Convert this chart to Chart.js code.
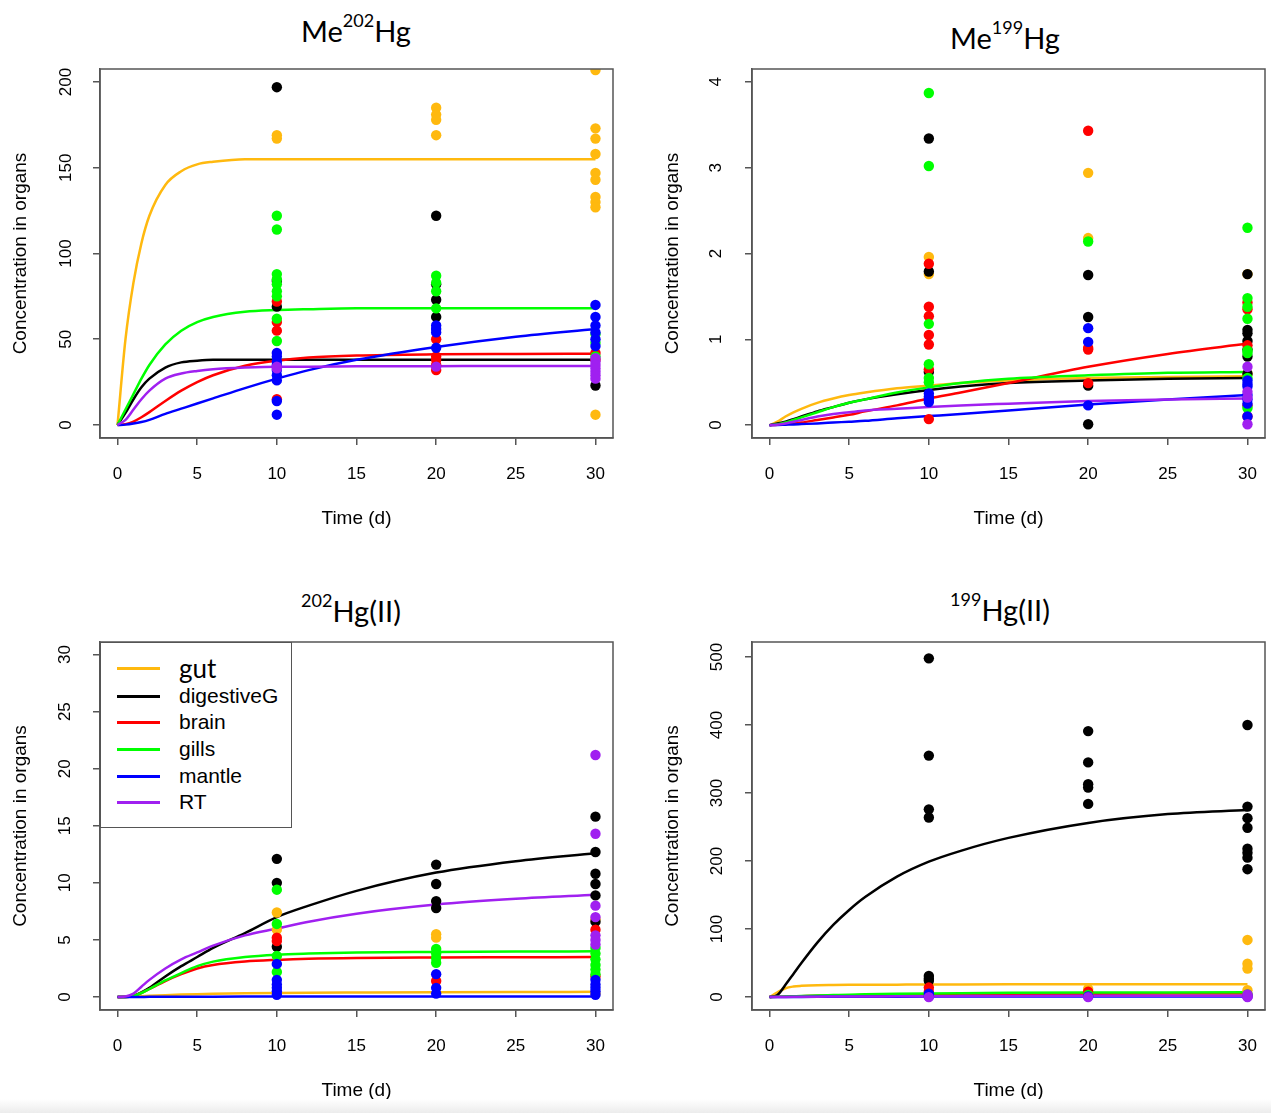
<!DOCTYPE html>
<html>
<head>
<meta charset="utf-8">
<script src="https://cdn.jsdelivr.net/npm/chart.js@4.4.1/dist/chart.umd.min.js"></script>
<style>
  html, body { margin: 0; padding: 0; background: #fff; }
  body { width: 1271px; height: 1113px; position: relative; overflow: hidden; font-family: "Liberation Sans", Arial, sans-serif; }
  .panel { position: absolute; }
  .ttl { position: absolute; font-family: Lato, "Open Sans", sans-serif; font-size: 29px; line-height: 1; color: #000; transform: translate(-50%, -50%); white-space: nowrap; }
  .ttl sup { font-size: 18px; vertical-align: top; position: relative; top: -5px; }
  #legend { position: absolute; left: 100px; top: 642px; width: 192px; height: 186px; border: 1.5px solid #555; box-sizing: border-box; background: #fff; }
  #legend .row { position: absolute; left: 0; height: 26px; }
  #legend .sw { position: absolute; left: 16px; width: 43px; height: 3px; top: 12px; }
  #legend .lb { position: absolute; left: 78px; top: 0; font-size: 21px; line-height: 26px; white-space: nowrap; color: #000; }
  #legend .lb.big { font-family: Lato, "Open Sans", sans-serif; font-size: 26px; }
  #shade { position: absolute; left: 0; top: 1099px; width: 1271px; height: 14px; background: linear-gradient(#ffffff, #ececec); }
</style>
</head>
<body>

<div class="ttl" style="left:356px; top:30px;">Me<sup>202</sup>Hg</div>
<div class="ttl" style="left:1005px; top:37px;">Me<sup>199</sup>Hg</div>
<div class="ttl" style="left:351px; top:610px;"><sup>202</sup>Hg(II)</div>
<div class="ttl" style="left:1000px; top:609px;"><sup>199</sup>Hg(II)</div>

<div class="panel" style="left:0px; top:0px;"><canvas id="c1"></canvas></div>
<div class="panel" style="left:652px; top:0px;"><canvas id="c2"></canvas></div>
<div class="panel" style="left:0px; top:573px;"><canvas id="c3"></canvas></div>
<div class="panel" style="left:652px; top:573px;"><canvas id="c4"></canvas></div>

<div id="legend"></div>
<div id="shade"></div>

<script>
/* ---- shared axes ---- */
const curveT = [0, 0.5, 1, 1.5, 2, 3, 4, 5, 6, 8, 10, 12, 15, 20, 25, 30];
const sampleDays = [10, 20, 30];
const xTicks = [0, 5, 10, 15, 20, 25, 30];
const organs = ['gut', 'digestiveG', 'brain', 'gills', 'mantle', 'RT'];
const organColors = ['#FFB90F', '#000000', '#FF0000', '#00FF00', '#0000FF', '#A020F0'];

/* ---- Me202Hg ---- */
const me202Ticks = [0, 50, 100, 150, 200];
const me202FitGut    = [0, 50, 83, 106, 122, 140, 148, 152, 153.5, 155, 155, 155, 155, 155, 155, 155];
const me202FitDig    = [0, 7, 15, 22, 27, 33.5, 36.5, 37.5, 38, 38, 38, 38, 38, 38, 38, 38];
const me202FitBrain  = [0, 0.5, 2, 4.5, 7.5, 14, 20, 25, 29, 34.5, 37.5, 39.3, 40.5, 41.2, 41.4, 41.5];
const me202FitGills  = [0, 9, 18, 27, 35, 47, 55, 60, 63, 66, 67, 67.5, 68, 68, 68, 68];
const me202FitMantle = [0, 0.2, 0.8, 1.7, 3, 6.5, 9.5, 12.5, 15.5, 21.5, 27, 32, 38, 45.5, 51.5, 56];
const me202FitRT     = [0, 3, 9, 15, 20, 27, 30, 31.5, 32.5, 33.5, 34, 34, 34.2, 34.3, 34.4, 34.4];
const me202PtsGut    = [[169, 167], [185, 181, 178, 169], [207, 173, 167, 158, 147, 143, 133, 130, 127, 6]];
const me202PtsDig    = [[197, 84, 69], [122, 82, 73, 63], [23]];
const me202PtsBrain  = [[72, 60, 55, 15], [50, 40, 38, 35, 32], [42, 38]];
const me202PtsGills  = [[122, 114, 88, 85, 82, 78, 75, 62, 49], [87, 83, 78, 68], [53, 48, 40]];
const me202PtsMantle = [[42, 40, 37, 35, 32, 29, 26, 14, 6], [58, 56, 54, 45], [70, 63, 58, 54, 50, 46]];
const me202PtsRT     = [[34, 33], [34], [39, 37, 35, 33, 31, 29, 27]];

/* ---- Me199Hg ---- */
const me199Ticks = [0, 1, 2, 3, 4];
const me199FitGut    = [0, 0.04, 0.1, 0.15, 0.19, 0.26, 0.31, 0.35, 0.38, 0.43, 0.46, 0.49, 0.52, 0.55, 0.56, 0.57];
const me199FitDig    = [0, 0.02, 0.04, 0.07, 0.1, 0.16, 0.21, 0.26, 0.3, 0.36, 0.41, 0.45, 0.49, 0.52, 0.54, 0.55];
const me199FitBrain  = [0, 0.005, 0.01, 0.02, 0.03, 0.06, 0.09, 0.12, 0.16, 0.23, 0.31, 0.38, 0.49, 0.68, 0.83, 0.95];
const me199FitGills  = [0, 0.01, 0.03, 0.06, 0.09, 0.15, 0.21, 0.26, 0.3, 0.38, 0.44, 0.49, 0.54, 0.58, 0.61, 0.62];
const me199FitMantle = [0, 0.002, 0.005, 0.008, 0.012, 0.02, 0.03, 0.04, 0.05, 0.08, 0.105, 0.13, 0.17, 0.24, 0.3, 0.35];
const me199FitRT     = [0, 0.005, 0.02, 0.04, 0.06, 0.1, 0.13, 0.15, 0.17, 0.19, 0.21, 0.23, 0.25, 0.28, 0.3, 0.31];
const me199PtsGut    = [[1.96, 1.76], [2.94, 2.18], [1.76, 0.6]];
const me199PtsDig    = [[3.34, 1.79, 0.62], [1.75, 1.26, 0.46, 0.01], [1.76, 1.11, 1.07, 0.98, 0.88, 0.8, 0.6]];
const me199PtsBrain  = [[1.88, 1.38, 1.27, 1.05, 0.94, 0.65, 0.07], [3.43, 0.9, 0.88, 0.49], [1.43, 1.35, 0.93, 0.23, 0.1]];
const me199PtsGills  = [[3.87, 3.02, 1.18, 0.71, 0.55, 0.5], [2.14], [2.3, 1.48, 1.38, 1.24, 0.87, 0.84, 0.55, 0.2]];
const me199PtsMantle = [[0.37, 0.33, 0.3, 0.27], [1.13, 0.97, 0.23], [0.52, 0.48, 0.45, 0.35, 0.3, 0.25, 0.1]];
const me199PtsRT     = [[], [], [0.68, 0.39, 0.32, 0.01]];

/* ---- 202Hg(II) ---- */
const ii202Ticks = [0, 5, 10, 15, 20, 25, 30];
const ii202FitGut    = [0, 0.01, 0.03, 0.06, 0.1, 0.16, 0.21, 0.25, 0.28, 0.32, 0.35, 0.37, 0.39, 0.42, 0.44, 0.45];
const ii202FitDig    = [0, 0, 0.1, 0.4, 0.8, 1.8, 2.7, 3.5, 4.3, 5.6, 7.0, 8.0, 9.3, 10.9, 11.9, 12.6];
const ii202FitBrain  = [0, 0, 0.1, 0.35, 0.7, 1.4, 2.0, 2.5, 2.8, 3.1, 3.25, 3.35, 3.42, 3.46, 3.48, 3.5];
const ii202FitGills  = [0, 0, 0.1, 0.35, 0.7, 1.45, 2.1, 2.7, 3.1, 3.5, 3.7, 3.8, 3.9, 3.95, 3.98, 4.0];
const ii202FitMantle = [0, 0, 0, 0.005, 0.01, 0.015, 0.02, 0.025, 0.03, 0.035, 0.04, 0.042, 0.045, 0.048, 0.05, 0.05];
const ii202FitRT     = [0, 0.05, 0.3, 0.9, 1.5, 2.5, 3.3, 3.9, 4.5, 5.4, 6.0, 6.6, 7.3, 8.1, 8.6, 8.95];
const ii202PtsGut    = [[16.9, 7.4, 5.9], [5.5, 5.2], [6.8, 0.3]];
const ii202PtsDig    = [[12.1, 10.0, 4.4], [11.6, 9.9, 8.4, 7.8], [15.8, 12.7, 10.8, 9.9, 8.9, 6.6]];
const ii202PtsBrain  = [[5.2, 4.9], [1.4], [5.9, 1.8]];
const ii202PtsGills  = [[9.4, 6.4, 3.6, 2.2], [4.2, 3.8, 3.4, 3.0], [4.3, 3.8, 3.3, 2.8, 2.4, 2.0]];
const ii202PtsMantle = [[2.9, 1.5, 1.1, 0.8, 0.5, 0.2], [2.0, 0.8, 0.3], [1.5, 1.1, 0.8, 0.5, 0.2]];
const ii202PtsRT     = [[], [], [21.2, 14.3, 8.0, 7.0, 5.4, 5.0, 4.6]];

/* ---- 199Hg(II) ---- */
const ii199Ticks = [0, 100, 200, 300, 400, 500];
const ii199FitGut    = [0, 7, 13, 15.5, 16.5, 17.5, 17.8, 18, 18.1, 18.3, 18.5, 18.6, 18.7, 18.8, 18.9, 19];
const ii199FitDig    = [0, 3, 18, 34, 50, 80, 106, 128, 147, 177, 199, 215, 234, 256, 269, 275];
const ii199FitBrain  = [0, 0.3, 0.6, 0.9, 1.2, 1.8, 2.3, 2.7, 3.1, 3.6, 4, 4.3, 4.6, 5, 5.2, 5.3];
const ii199FitGills  = [0, 0.4, 0.8, 1.2, 1.6, 2.3, 2.9, 3.5, 4, 4.8, 5.4, 5.8, 6.2, 6.6, 6.8, 7];
const ii199FitMantle = [0, 0.05, 0.1, 0.15, 0.2, 0.3, 0.4, 0.45, 0.5, 0.6, 0.7, 0.75, 0.8, 0.9, 0.95, 1];
const ii199FitRT     = [0, 0.1, 0.2, 0.3, 0.4, 0.6, 0.7, 0.8, 0.9, 1.1, 1.3, 1.4, 1.6, 1.8, 1.9, 2];
const ii199PtsGut    = [[], [12], [84, 49, 42, 10]];
const ii199PtsDig    = [[498, 355, 276, 264, 31, 27, 24], [391, 345, 313, 308, 284], [400, 280, 263, 249, 218, 212, 205, 188]];
const ii199PtsBrain  = [[14, 8], [8], [3]];
const ii199PtsGills  = [[4], [3], [4]];
const ii199PtsMantle = [[5, 1], [1], [1]];
const ii199PtsRT     = [[0], [0], [4, 1, 0]];

const FONT = "'Liberation Sans', Arial, sans-serif";
const AXIS_GREY = '#555';

// R-style box round the plotting region
const boxPlugin = {
  id: 'rbox',
  afterDatasetsDraw(chart) {
    const { ctx, chartArea: a } = chart;
    ctx.save();
    ctx.strokeStyle = AXIS_GREY;
    ctx.lineWidth = 1.5;
    ctx.strokeRect(a.left, a.top, a.right - a.left, a.bottom - a.top);
    ctx.restore();
  }
};

function panel(canvasId, o) {
  const el = document.getElementById(canvasId);
  el.width = o.w; el.height = o.h;
  el.style.width = o.w + 'px'; el.style.height = o.h + 'px';

  const datasets = [];
  o.fits.forEach((f, i) => datasets.push({
    type: 'line',
    data: curveT.map((t, k) => ({ x: t, y: f[k] })),
    borderColor: organColors[i], borderWidth: 2.5, pointRadius: 0,
    cubicInterpolationMode: 'monotone', fill: false, order: 20 - i, clip: 0,
  }));
  o.pts.forEach((days, i) => datasets.push({
    type: 'scatter',
    data: days.flatMap((vals, d) => vals.map(v => ({ x: sampleDays[d], y: v }))),
    backgroundColor: organColors[i], borderWidth: 0, pointRadius: 5.2,
    order: 10 - i, clip: 0,
  }));

  new Chart(el.getContext('2d'), {
    type: 'scatter',
    data: { datasets },
    options: {
      responsive: false,
      animation: false,
      devicePixelRatio: 1,
      layout: { padding: { left: 0, top: o.area.t, right: o.w - o.area.r, bottom: 0 } },
      plugins: { legend: { display: false }, tooltip: { enabled: false } },
      scales: {
        x: {
          type: 'linear', min: -1.1, max: 31.1,
          afterBuildTicks: s => { s.ticks = xTicks.map(v => ({ value: v })); },
          afterFit: s => { s.height = o.h - o.area.b; s.paddingLeft = 0; s.paddingRight = 0; },
          grid: { display: true, drawOnChartArea: false, drawTicks: true, tickLength: 7, color: AXIS_GREY, lineWidth: 1.5 },
          border: { display: true, color: AXIS_GREY, width: 1.5 },
          ticks: { color: '#000', font: { family: FONT, size: 17 }, padding: 19, maxRotation: 0, autoSkip: false },
          title: { display: true, text: 'Time (d)', color: '#000', font: { family: FONT, size: 19 }, padding: { top: 0, bottom: o.xTitlePad } },
        },
        y: {
          type: 'linear', min: o.yMin, max: o.yMax,
          afterBuildTicks: s => { s.ticks = o.yTicks.map(v => ({ value: v })); },
          afterFit: s => { s.width = o.area.l; s.paddingTop = 0; s.paddingBottom = 0; },
          grid: { display: true, drawOnChartArea: false, drawTicks: true, tickLength: 7, color: AXIS_GREY, lineWidth: 1.5 },
          border: { display: true, color: AXIS_GREY, width: 1.5 },
          ticks: { color: '#000', font: { family: FONT, size: 17 }, padding: o.yTickPad, minRotation: 90, maxRotation: 90, crossAlign: 'center', autoSkip: false },
          title: { display: true, text: 'Concentration in organs', color: '#000', font: { family: FONT, size: 19 }, padding: { top: 9.5, bottom: 0 } },
        },
      },
    },
    plugins: [boxPlugin],
  });
}

panel('c1', {
  w: 636, h: 540, area: { l: 100, t: 69, r: 613, b: 438 }, xTitlePad: 10,
  yMin: -7.6, yMax: 207.6, yTicks: me202Ticks, yTickPad: 13,
  fits: [me202FitGut, me202FitDig, me202FitBrain, me202FitGills, me202FitMantle, me202FitRT],
  pts: [me202PtsGut, me202PtsDig, me202PtsBrain, me202PtsGills, me202PtsMantle, me202PtsRT],
});
panel('c2', {
  w: 619, h: 540, area: { l: 100, t: 69, r: 613, b: 438 }, xTitlePad: 10,
  yMin: -0.15, yMax: 4.15, yTicks: me199Ticks, yTickPad: 24,
  fits: [me199FitGut, me199FitDig, me199FitBrain, me199FitGills, me199FitMantle, me199FitRT],
  pts: [me199PtsGut, me199PtsDig, me199PtsBrain, me199PtsGills, me199PtsMantle, me199PtsRT],
});
panel('c3', {
  w: 636, h: 540, area: { l: 100, t: 69, r: 613, b: 437 }, xTitlePad: 11,
  yMin: -1.14, yMax: 31.1, yTicks: ii202Ticks, yTickPad: 18,
  fits: [ii202FitGut, ii202FitDig, ii202FitBrain, ii202FitGills, ii202FitMantle, ii202FitRT],
  pts: [ii202PtsGut, ii202PtsDig, ii202PtsBrain, ii202PtsGills, ii202PtsMantle, ii202PtsRT],
});
panel('c4', {
  w: 619, h: 540, area: { l: 100, t: 69, r: 613, b: 437 }, xTitlePad: 11,
  yMin: -19, yMax: 522, yTicks: ii199Ticks, yTickPad: 14,
  fits: [ii199FitGut, ii199FitDig, ii199FitBrain, ii199FitGills, ii199FitMantle, ii199FitRT],
  pts: [ii199PtsGut, ii199PtsDig, ii199PtsBrain, ii199PtsGills, ii199PtsMantle, ii199PtsRT],
});

// legend drawn into the 202Hg(II) panel, as in the figure
const legend = document.getElementById('legend');
const legendTops = [12, 40, 66, 93, 120, 146];
organs.forEach((name, i) => {
  const row = document.createElement('div');
  row.className = 'row';
  row.style.top = legendTops[i] + 'px';
  row.innerHTML = '<div class="sw" style="background:' + organColors[i] + '"></div>' +
                  '<div class="lb' + (i === 0 ? ' big' : '') + '">' + name + '</div>';
  legend.appendChild(row);
});
</script>
</body>
</html>
